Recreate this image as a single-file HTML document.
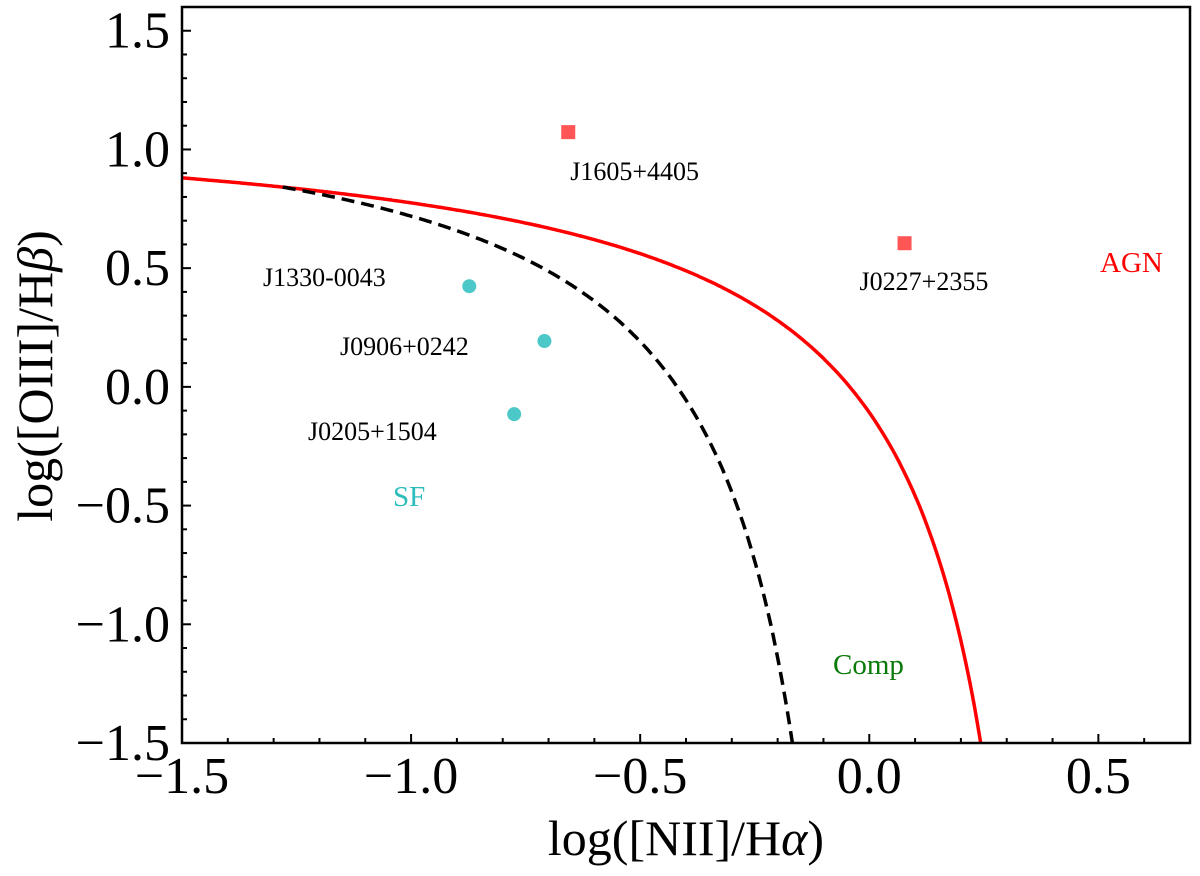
<!DOCTYPE html>
<html><head><meta charset="utf-8"><style>
body{margin:0;background:#fff}
text{font-family:"Liberation Serif",serif}
</style></head><body>
<svg id="c" width="1200" height="871"></svg>
<script>
const xTicks=[-1.5,-1.0,-0.5,0.0,0.5];
const yTicks=[-1.5,-1.0,-0.5,0.0,0.5,1.0,1.5];
const xTickLabels=["\u22121.5","\u22121.0","\u22120.5","0.0","0.5"];
const yTickLabels=["\u22121.5","\u22121.0","\u22120.5","0.0","0.5","1.0","1.5"];
const agnNames=["J1605+4405","J0227+2355"];
const agnX=[-0.657,0.077];
const agnY=[1.073,0.605];
const sfNames=["J1330-0043","J0906+0242","J0205+1504"];
const sfX=[-0.873,-0.709,-0.775];
const sfY=[0.424,0.193,-0.115];
const X0=182,X1=1190,Y0=743,Y1=7,xmin=-1.5,xmax=0.7,ymin=-1.5,ymax=1.6;
const sx=v=>X0+(v-xmin)/(xmax-xmin)*(X1-X0);
const sy=v=>Y0-(v-ymin)/(ymax-ymin)*(Y0-Y1);
const svg=document.getElementById('c');const NS='http://www.w3.org/2000/svg';
function mk(t,a,p){const e=document.createElementNS(NS,t);for(const k in a)e.setAttribute(k,a[k]);(p||svg).appendChild(e);return e;}
const defs=mk('defs',{});const cp=mk('clipPath',{id:'cp'},defs);mk('rect',{x:X0,y:Y1,width:X1-X0,height:Y0-Y1},cp);
let d1='',d2='';
for(let x=-1.5;x<=0.3;x+=0.005){const y=0.61/(x-0.47)+1.19;if(y<-1.6)break;d1+=(d1?'L':'M')+sx(x).toFixed(1)+','+sy(y).toFixed(1);}
for(let x=-1.28;x<=0;x+=0.005){const y=0.61/(x-0.05)+1.3;if(y<-1.6)break;d2+=(d2?'L':'M')+sx(x).toFixed(1)+','+sy(y).toFixed(1);}
const k1=mk('path',{d:d1,fill:'none',stroke:'#f00','stroke-width':3.5,'clip-path':'url(#cp)'});

const k2=mk('path',{d:d2,fill:'none',stroke:'#000','stroke-width':3.5,'stroke-dasharray':'13,7','clip-path':'url(#cp)'});

const agnOff=[[2,48],[-45,47]];
agnX.forEach((x,i)=>{const r=mk('rect',{x:sx(x)-7,y:sy(agnY[i])-7,width:14,height:14,fill:'#f55'});

const t=mk('text',{x:sx(x)+agnOff[i][0],y:sy(agnY[i])+agnOff[i][1],'font-size':26});t.textContent=agnNames[i];
});
const sfLab=[[263,286],[340,355],[308,440]];
sfX.forEach((x,i)=>{const c=mk('circle',{cx:sx(x),cy:sy(sfY[i]),r:7,fill:'#4cc8c8'});

const t=mk('text',{x:sfLab[i][0],y:sfLab[i][1],'font-size':26});t.textContent=sfNames[i];
});
[['AGN',1100,272,'#f00','agn-region-label'],['SF',393,506,'#2bbcbc','sf-region-label'],['Comp',833,674,'#0a7a0a','comp-region-label']].forEach(a=>{
const t=mk('text',{x:a[1],y:a[2],'font-size':29,fill:a[3]});t.textContent=a[0];
});
const fr=mk('rect',{x:X0,y:Y1,width:X1-X0,height:Y0-Y1,fill:'none',stroke:'#000','stroke-width':2.5});

for(let i=-15;i<=7;i++){const x=sx(i/10);const maj=i%5===0;mk('line',{x1:x,x2:x,y1:Y0,y2:Y0-(maj?9:5),stroke:'#000','stroke-width':2});}
for(let i=-15;i<=16;i++){const y=sy(i/10);const maj=i%5===0;mk('line',{x1:X0,x2:X0+(maj?9:5),y1:y,y2:y,stroke:'#000','stroke-width':2});}
xTicks.forEach((v,i)=>{const t=mk('text',{x:sx(v),y:793,'font-size':52,'text-anchor':'middle'});t.textContent=xTickLabels[i];
});
yTicks.forEach((v,i)=>{const t=mk('text',{x:170,y:sy(v)+17,'font-size':52,'text-anchor':'end'});t.textContent=yTickLabels[i];
});
const xt=mk('text',{x:686,y:855,'font-size':50,'text-anchor':'middle'});xt.innerHTML='log([NII]/H<tspan font-style="italic">α</tspan>)';

const yt=mk('text',{x:0,y:0,'font-size':50,'text-anchor':'middle',transform:'translate(52,376) rotate(-90)'});yt.innerHTML='log([OIII]/H<tspan font-style="italic">β</tspan>)';

</script>
</body></html>
